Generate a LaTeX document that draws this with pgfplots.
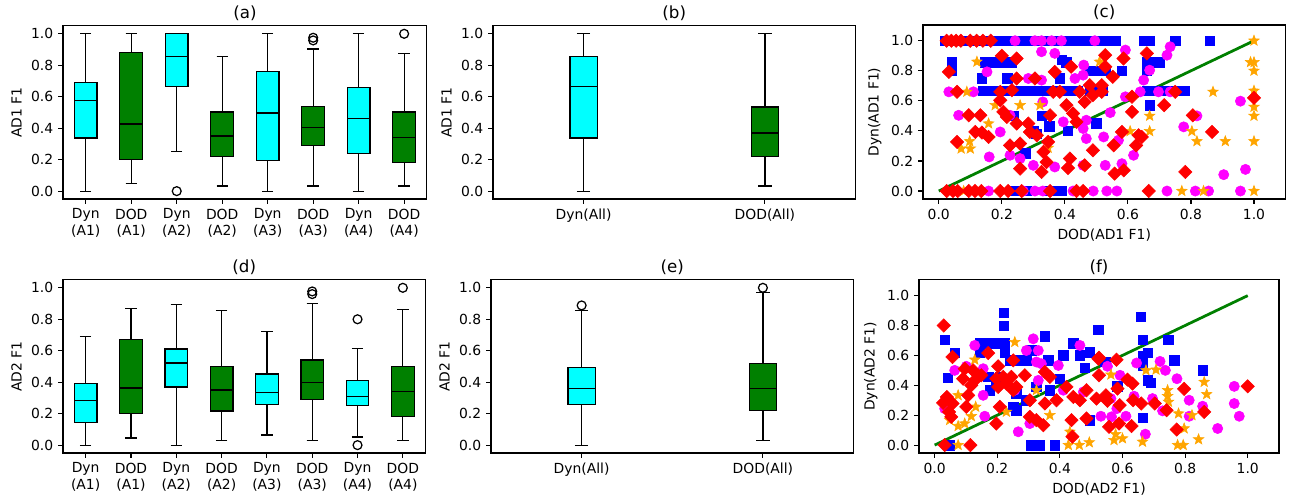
\documentclass[border=0pt]{standalone}
\usepackage{fontspec}
\setmainfont{DejaVu Sans}
\usepackage{pgfplots}
\pgfplotsset{compat=1.18}
\usepgfplotslibrary{statistics}
\usetikzlibrary{plotmarks}
\definecolor{mplgreen}{RGB}{0,128,0}
\definecolor{mplorange}{RGB}{255,165,0}
\definecolor{mplcyan}{RGB}{0,255,255}
\definecolor{mplmag}{RGB}{255,0,255}
\definecolor{mplblue}{RGB}{0,0,255}
\definecolor{mplred}{RGB}{255,0,0}
\pgfdeclareplotmark{fstar}{%
  \pgfpathmoveto{\pgfpointpolar{90}{\pgfplotmarksize}}%
  \pgfpathlineto{\pgfpointpolar{126}{0.42\pgfplotmarksize}}%
  \pgfpathlineto{\pgfpointpolar{162}{\pgfplotmarksize}}%
  \pgfpathlineto{\pgfpointpolar{198}{0.42\pgfplotmarksize}}%
  \pgfpathlineto{\pgfpointpolar{234}{\pgfplotmarksize}}%
  \pgfpathlineto{\pgfpointpolar{270}{0.42\pgfplotmarksize}}%
  \pgfpathlineto{\pgfpointpolar{306}{\pgfplotmarksize}}%
  \pgfpathlineto{\pgfpointpolar{342}{0.42\pgfplotmarksize}}%
  \pgfpathlineto{\pgfpointpolar{18}{\pgfplotmarksize}}%
  \pgfpathlineto{\pgfpointpolar{54}{0.42\pgfplotmarksize}}%
  \pgfpathclose\pgfusepathqfillstroke}
\pgfplotsset{
  every axis title shift=0pt,
  mpl/.style={scale only axis, width=261pt, height=124.6pt,
    tick align=outside, xtick pos=bottom, ytick pos=left,
    major tick length=3.5pt,
    axis line style={line width=0.8pt},
    every tick/.style={black, line width=0.8pt},
    title style={font=\fontsize{12}{14}\selectfont, at={(0.5,1)}, anchor=base, yshift=5.4pt},
    /pgf/number format/assume math mode=true,
    yticklabel style={/pgf/number format/fixed, /pgf/number format/fixed zerofill, /pgf/number format/precision=1},
    xticklabel style={/pgf/number format/fixed, /pgf/number format/fixed zerofill, /pgf/number format/precision=1},
    ytick={0,0.2,0.4,0.6,0.8,1.0},
  },
  boxax/.style={mpl, ymin=-0.05, ymax=1.05},
  scax/.style={mpl, xmin=-0.05, xmax=1.1, ymin=-0.053, ymax=1.105,
    xtick={0,0.2,0.4,0.6,0.8,1.0}},
  bxc/.style={draw=black, line width=0.9pt, fill=#1, boxplot/draw direction=y},
  outl/.style={only marks, mark=o, mark size=3.2pt, mark options={draw=black, fill=white, line width=0.9pt}},
  sqB/.style={only marks, mark=square*, mark size=3.4pt, mark options={fill=mplblue, draw=mplblue}},
  ciM/.style={only marks, mark=*, mark size=3.7pt, mark options={fill=mplmag, draw=mplmag}},
  stO/.style={only marks, mark=fstar, mark size=4pt, mark options={fill=mplorange, draw=mplorange}},
  diR/.style={only marks, mark=square*, mark size=3.4pt, mark options={fill=mplred, draw=mplred, rotate=45}},
}
\begin{document}
\begin{tikzpicture}
\path[use as bounding box] (0,0) rectangle (930.96pt,360.72pt);

% (a)
\begin{axis}[boxax, at={(45.36pt,217.44pt)}, anchor=south west, width=262pt,
  title={(a)}, ylabel={AD1 F1}, xmin=0.5, xmax=8.5,
  xtick={1,2,3,4,5,6,7,8},
  xticklabels={{Dyn\\(A1)},{DOD\\(A1)},{Dyn\\(A2)},{DOD\\(A2)},{Dyn\\(A3)},{DOD\\(A3)},{Dyn\\(A4)},{DOD\\(A4)}},
  xticklabel style={align=center},
  boxplot/box extend=0.5, boxplot/whisker extend=0.25]
\addplot[bxc=mplcyan, boxplot prepared={draw position=1, lower whisker=0.0, lower quartile=0.337, median=0.576, upper quartile=0.69, upper whisker=1.0}] coordinates {};
\addplot[bxc=mplgreen, boxplot prepared={draw position=2, lower whisker=0.047, lower quartile=0.199, median=0.426, upper quartile=0.879, upper whisker=1.0}] coordinates {};
\addplot[bxc=mplcyan, boxplot prepared={draw position=3, lower whisker=0.252, lower quartile=0.663, median=0.858, upper quartile=1.0, upper whisker=1.0}] coordinates {};
\addplot[bxc=mplgreen, boxplot prepared={draw position=4, lower whisker=0.032, lower quartile=0.218, median=0.35, upper quartile=0.503, upper whisker=0.856}] coordinates {};
\addplot[bxc=mplcyan, boxplot prepared={draw position=5, lower whisker=0.0, lower quartile=0.193, median=0.496, upper quartile=0.761, upper whisker=1.0}] coordinates {};
\addplot[bxc=mplgreen, boxplot prepared={draw position=6, lower whisker=0.032, lower quartile=0.29, median=0.403, upper quartile=0.54, upper whisker=0.903}] coordinates {};
\addplot[bxc=mplcyan, boxplot prepared={draw position=7, lower whisker=0.0, lower quartile=0.24, median=0.464, upper quartile=0.661, upper whisker=1.0}] coordinates {};
\addplot[bxc=mplgreen, boxplot prepared={draw position=8, lower whisker=0.032, lower quartile=0.18, median=0.343, upper quartile=0.503, upper whisker=0.873}] coordinates {};
\addplot[outl] coordinates {(3,0.0) (6,0.958) (6,0.975) (8,1.0)};
\end{axis}

% (b)
\begin{axis}[boxax, at={(354.96pt,217.44pt)}, anchor=south west,
  title={(b)}, ylabel={AD1 F1}, xmin=0.5, xmax=2.5,
  xtick={1,2}, xticklabels={Dyn(All),DOD(All)},
  boxplot/box extend=0.15, boxplot/whisker extend=0.075]
\addplot[bxc=mplcyan, boxplot prepared={draw position=1, lower whisker=0.0, lower quartile=0.337, median=0.665, upper quartile=0.856, upper whisker=1.0}] coordinates {};
\addplot[bxc=mplgreen, boxplot prepared={draw position=2, lower whisker=0.032, lower quartile=0.22, median=0.369, upper quartile=0.534, upper whisker=1.0}] coordinates {};
\end{axis}

% (c)
\begin{axis}[scax, at={(664.56pt,217.44pt)}, anchor=south west, height=125.3pt,
  title={(c)}, xlabel={DOD(AD1 F1)}, ylabel={Dyn(AD1 F1)}]
\addplot[sqB] coordinates {
(0.02,1)(0.04,1)(0.06,1)(0.08,1)(0.12,1)(0.15,1)(0.18,1)(0.2,1)(0.22,1)(0.24,1)(0.26,1)(0.28,1)(0.3,1)(0.32,1)(0.34,1)(0.36,1)(0.38,1)(0.4,1)(0.42,1)(0.44,1)(0.46,1)(0.48,1)(0.5,1)(0.52,1)(0.54,1)(0.56,1)(0.65,1)(0.67,1)(0.75,1)(0.86,1)
(0.042,0.857)(0.147,0.857)(0.18,0.857)(0.21,0.857)(0.23,0.857)(0.39,0.875)(0.405,0.857)(0.66,0.857)(0.68,0.857)(0.70,0.857)
(0.042,0.8)(0.48,0.8)(0.5,0.8)(0.53,0.8)(0.58,0.8)(0.66,0.8)
(0.137,0.75)(0.218,0.75)(0.384,0.75)
(0.14,0.667)(0.16,0.667)(0.18,0.667)(0.2,0.667)(0.22,0.667)(0.24,0.667)(0.26,0.667)(0.29,0.667)(0.31,0.667)(0.34,0.667)(0.36,0.667)(0.38,0.667)(0.4,0.667)(0.42,0.667)(0.44,0.667)(0.48,0.667)(0.5,0.667)(0.52,0.667)(0.66,0.667)(0.68,0.667)(0.70,0.667)(0.72,0.667)(0.74,0.667)(0.76,0.667)(0.78,0.667)
(0.67,0.571)(0.237,0.5)(0.326,0.5)(0.30,0.4)(0.31,0.38)(0.35,0.43)(0.41,0.4)(0.50,0.45)(0.274,0.25)
(0.24,0)(0.26,0)(0.28,0)(0.35,0)(0.37,0)(0.39,0)};
\addplot[ciM] coordinates {
(0.242,1)(0.305,1)(0.326,1)(0.358,1)(0.389,1)(0.495,1)
(0.326,0.927)(0.368,0.916)(0.153,0.793)(0.284,0.749)(0.326,0.738)(0.432,0.749)(0.458,0.771)(0.46,0.838)
(0.032,0.66)(0.11,0.66)(0.063,0.504)(0.226,0.504)(0.195,0.393)(0.33,0.593)(0.468,0.471)(0.395,0.46)(0.468,0.349)(0.458,0.416)
(0.16,0.227)(0.226,0.238)(0.3,0.171)(0.368,0.16)(0.458,0.171)(0.258,0.216)
(0.158,0)(0.268,0)(0.305,0)(0.33,0)(0.426,0)(0.49,0)
(0.592,0.938)(0.734,0.96)(0.724,0.904)(0.669,0.804)(0.65,0.738)(0.592,0.627)(0.639,0.66)(0.697,0.66)(0.734,0.66)(0.544,0.522)(0.957,0.598)(0.819,0.5)(0.777,0.427)(0.523,0.36)(0.57,0.338)(0.618,0.238)(0.581,0.182)(0.528,0.171)(0.904,0.109)(0.973,0.144)
(0.533,0)(0.565,0)(0.724,0)(0.814,0)(0.856,0)(0.957,0)};
\addplot[stO] coordinates {
(0.121,0.86)(0.089,0.66)(0.179,0.571)(0.258,0.571)(0.321,0.571)(0.158,0.449)(0.098,0.331)(0.071,0.282)(0.1,0.282)(0.347,0.287)(0.079,0)(0.51,0.86)
(0.669,0.5)(0.669,0.398)(0.803,0.398)(0.819,0.331)(0.909,0.331)(0.87,0.66)(1.0,1.0)(0.989,0.857)(1.0,0.857)(1.0,0.8)(1.0,0.667)(1.0,0.56)(1.0,0.5)(1.0,0.331)(1.0,0)(0.771,0)(0.607,0.398)(0.84,0)};
\addplot[diR] coordinates {
(0.025,1)(0.04,1)(0.055,1)(0.07,1)(0.1,1)(0.12,1)(0.14,1)(0.165,1)
(0.2,0.9)(0.247,0.882)(0.032,0.793)(0.42,0.827)(0.368,0.793)(0.305,0.749)(0.247,0.749)
(0.058,0.66)(0.195,0.66)(0.232,0.671)(0.363,0.66)(0.384,0.66)(0.447,0.66)(0.479,0.704)(0.489,0.638)(0.195,0.604)(0.405,0.571)(0.463,0.593)
(0.095,0.504)(0.132,0.504)(0.205,0.527)(0.216,0.493)(0.353,0.504)(0.426,0.516)(0.437,0.46)
(0.116,0.393)(0.137,0.389)(0.158,0.36)(0.247,0.449)(0.284,0.449)(0.289,0.393)(0.311,0.371)(0.058,0.327)(0.226,0.304)(0.258,0.316)(0.347,0.327)(0.332,0.26)(0.342,0.193)(0.258,0.149)(0.326,0.127)(0.416,0.216)(0.41,0.153)(0.463,0.171)(0.489,0.271)
(0.025,0)(0.045,0)(0.06,0)(0.095,0)(0.115,0)(0.135,0)(0.195,0)(0.22,0)(0.263,0)(0.353,0)(0.437,0)(0.458,0)
(0.528,0.904)(0.586,0.882)(0.66,0.916)(0.528,0.827)(0.552,0.76)(0.517,0.704)(0.517,0.66)(0.613,0.627)(0.75,0.66)(1.0,0.62)(0.715,0.571)(0.613,0.527)(0.806,0.504)(0.867,0.393)(0.581,0.393)(0.634,0.371)(0.644,0.36)(0.555,0.304)(0.626,0.304)(0.558,0.116)(0.587,0.138)(0.782,0.127)(0.666,0)};
\addplot[mplgreen, line width=2pt] coordinates {(0,0) (1,1)};
\end{axis}

% (d)
\begin{axis}[boxax, at={(45.36pt,34.56pt)}, anchor=south west,
  title={(d)}, ylabel={AD2 F1}, xmin=0.5, xmax=8.5,
  xtick={1,2,3,4,5,6,7,8},
  xticklabels={{Dyn\\(A1)},{DOD\\(A1)},{Dyn\\(A2)},{DOD\\(A2)},{Dyn\\(A3)},{DOD\\(A3)},{Dyn\\(A4)},{DOD\\(A4)}},
  xticklabel style={align=center},
  boxplot/box extend=0.5, boxplot/whisker extend=0.25]
\addplot[bxc=mplcyan, boxplot prepared={draw position=1, lower whisker=0.0, lower quartile=0.146, median=0.285, upper quartile=0.393, upper whisker=0.692}] coordinates {};
\addplot[bxc=mplgreen, boxplot prepared={draw position=2, lower whisker=0.045, lower quartile=0.2, median=0.363, upper quartile=0.671, upper whisker=0.87}] coordinates {};
\addplot[bxc=mplcyan, boxplot prepared={draw position=3, lower whisker=0.0, lower quartile=0.369, median=0.522, upper quartile=0.611, upper whisker=0.892}] coordinates {};
\addplot[bxc=mplgreen, boxplot prepared={draw position=4, lower whisker=0.03, lower quartile=0.217, median=0.35, upper quartile=0.501, upper whisker=0.858}] coordinates {};
\addplot[bxc=mplcyan, boxplot prepared={draw position=5, lower whisker=0.064, lower quartile=0.257, median=0.335, upper quartile=0.452, upper whisker=0.72}] coordinates {};
\addplot[bxc=mplgreen, boxplot prepared={draw position=6, lower whisker=0.03, lower quartile=0.289, median=0.399, upper quartile=0.541, upper whisker=0.902}] coordinates {};
\addplot[bxc=mplcyan, boxplot prepared={draw position=7, lower whisker=0.051, lower quartile=0.25, median=0.31, upper quartile=0.41, upper whisker=0.614}] coordinates {};
\addplot[bxc=mplgreen, boxplot prepared={draw position=8, lower whisker=0.03, lower quartile=0.18, median=0.342, upper quartile=0.501, upper whisker=0.864}] coordinates {};
\addplot[outl] coordinates {(6,0.96) (6,0.977) (7,0.0) (7,0.8) (8,1.0)};
\end{axis}

% (e)
\begin{axis}[boxax, at={(353.52pt,34.56pt)}, anchor=south west,
  title={(e)}, ylabel={AD2 F1}, xmin=0.5, xmax=2.5,
  xtick={1,2}, xticklabels={Dyn(All),DOD(All)},
  boxplot/box extend=0.15, boxplot/whisker extend=0.075]
\addplot[bxc=mplcyan, boxplot prepared={draw position=1, lower whisker=0.0, lower quartile=0.256, median=0.362, upper quartile=0.493, upper whisker=0.856}] coordinates {};
\addplot[bxc=mplgreen, boxplot prepared={draw position=2, lower whisker=0.03, lower quartile=0.218, median=0.362, upper quartile=0.518, upper whisker=0.97}] coordinates {};
\addplot[outl] coordinates {(1,0.888) (2,1.0)};
\end{axis}

% (f)
\begin{axis}[scax, at={(661.68pt,34.56pt)}, anchor=south west, width=259.2pt,
  title={(f)}, xlabel={DOD(AD2 F1)}, ylabel={Dyn(AD2 F1)}]
\addplot[sqB] coordinates {
(0.221,0.884)(0.221,0.8)(0.032,0.704)(0.064,0.616)(0.041,0.451)(0.144,0.682)(0.171,0.682)(0.197,0.682)(0.224,0.682)(0.144,0.616)(0.224,0.616)(0.24,0.567)(0.309,0.633)(0.352,0.727)(0.443,0.682)(0.411,0.6)(0.464,0.6)(0.496,0.622)(0.523,0.771)(0.261,0.567)(0.293,0.567)(0.363,0.567)(0.48,0.518)(0.171,0.456)(0.208,0.456)(0.176,0.367)(0.197,0.433)(0.261,0.344)(0.293,0.3)(0.251,0.256)(0.261,0.233)(0.325,0.389)(0.368,0.367)(0.4,0.444)(0.309,0)(0.336,0)(0.384,0)(0.046,0)(0.496,0.167)
(0.659,0.86)(0.664,0.704)(0.746,0.704)(0.68,0.616)(0.664,0.593)(0.765,0.567)(0.664,0.533)(0.856,0.5)(0.68,0.433)(0.691,0.416)(0.545,0.556)(0.584,0.393)(0.664,0.184)};
\addplot[ciM] coordinates {
(0.128,0.667)(0.064,0.5)(0.101,0.527)(0.155,0.511)(0.155,0.333)(0.16,0.193)(0.267,0.089)(0.293,0.633)(0.315,0.711)(0.331,0.633)(0.325,0.556)(0.341,0.544)(0.395,0.533)(0.464,0.667)(0.331,0.433)(0.304,0.144)(0.256,0.367)(0.475,0.356)(0.032,0.244)(0.411,0.367)
(0.645,0.549)(0.72,0.56)(0.737,0.5)(0.552,0.527)(0.774,0.444)(0.592,0.467)(0.637,0.327)(0.696,0.311)(0.813,0.3)(0.856,0.26)(0.957,0.393)(0.957,0.278)(0.973,0.193)(0.904,0.111)(0.673,0.073)(0.813,0.193)(0.728,0.229)(0.611,0.193)(0.582,0.244)(0.531,0.193)(0.565,0.189)(0.563,0.311)};
\addplot[stO] coordinates {
(0.256,0.689)(0.128,0.571)(0.075,0.333)(0.131,0.256)(0.117,0.193)(0.075,0.127)(0.096,0.144)(0.048,0.167)(0.075,0)(0.229,0.222)(0.368,0.2)(0.432,0.089)(0.427,0)(0.462,0)(0.494,0.018)(0.325,0.367)
(0.563,0.471)(0.707,0.504)(0.861,0.422)(0.869,0.34)(0.744,0.367)(0.744,0.327)(0.747,0.289)(0.779,0.211)(0.822,0.2)(0.797,0.111)(0.776,0)(0.794,0)(0.843,0.038)(0.664,0.022)(0.573,0.033)(0.6,0.044)(0.578,0.073)(0.675,0.5)};
\addplot[diR] coordinates {
(0.029,0.8)(0.032,0)(0.114,0)(0.057,0.589)(0.171,0.616)(0.096,0.511)(0.123,0.5)(0.149,0.467)(0.091,0.444)(0.128,0.433)(0.117,0.4)(0.107,0.333)(0.101,0.256)(0.039,0.322)(0.027,0.282)(0.057,0.278)(0.046,0.222)(0.053,0.189)(0.197,0.144)(0.203,0.527)(0.197,0.444)(0.219,0.456)(0.245,0.456)(0.203,0.389)(0.229,0.411)(0.251,0.367)(0.261,0.389)(0.208,0.256)(0.251,0.567)(0.288,0.467)(0.304,0.189)(0.325,0.167)(0.347,0.133)(0.352,0.489)(0.368,0.456)(0.304,0.3)(0.352,0.278)(0.389,0.3)(0.421,0.389)(0.443,0.322)(0.437,0.167)(0.44,0.056)(0.464,0.3)(0.485,0.367)(0.485,0.178)(0.523,0.578)(0.517,0.311)
(0.525,0.584)(0.581,0.571)(0.525,0.467)(0.616,0.438)(0.632,0.411)(0.584,0.378)(0.547,0.333)(0.552,0.296)(0.591,0.267)(0.634,0.3)(0.66,0.278)(0.703,0.278)(0.741,0.233)(0.797,0.376)(0.861,0.222)(1.0,0.393)(0.557,0.122)(0.589,0.144)(0.629,0.127)(0.773,0.104)};
\addplot[mplgreen, line width=2pt] coordinates {(0,0) (1,1)};
\end{axis}
\end{tikzpicture}
\end{document}
